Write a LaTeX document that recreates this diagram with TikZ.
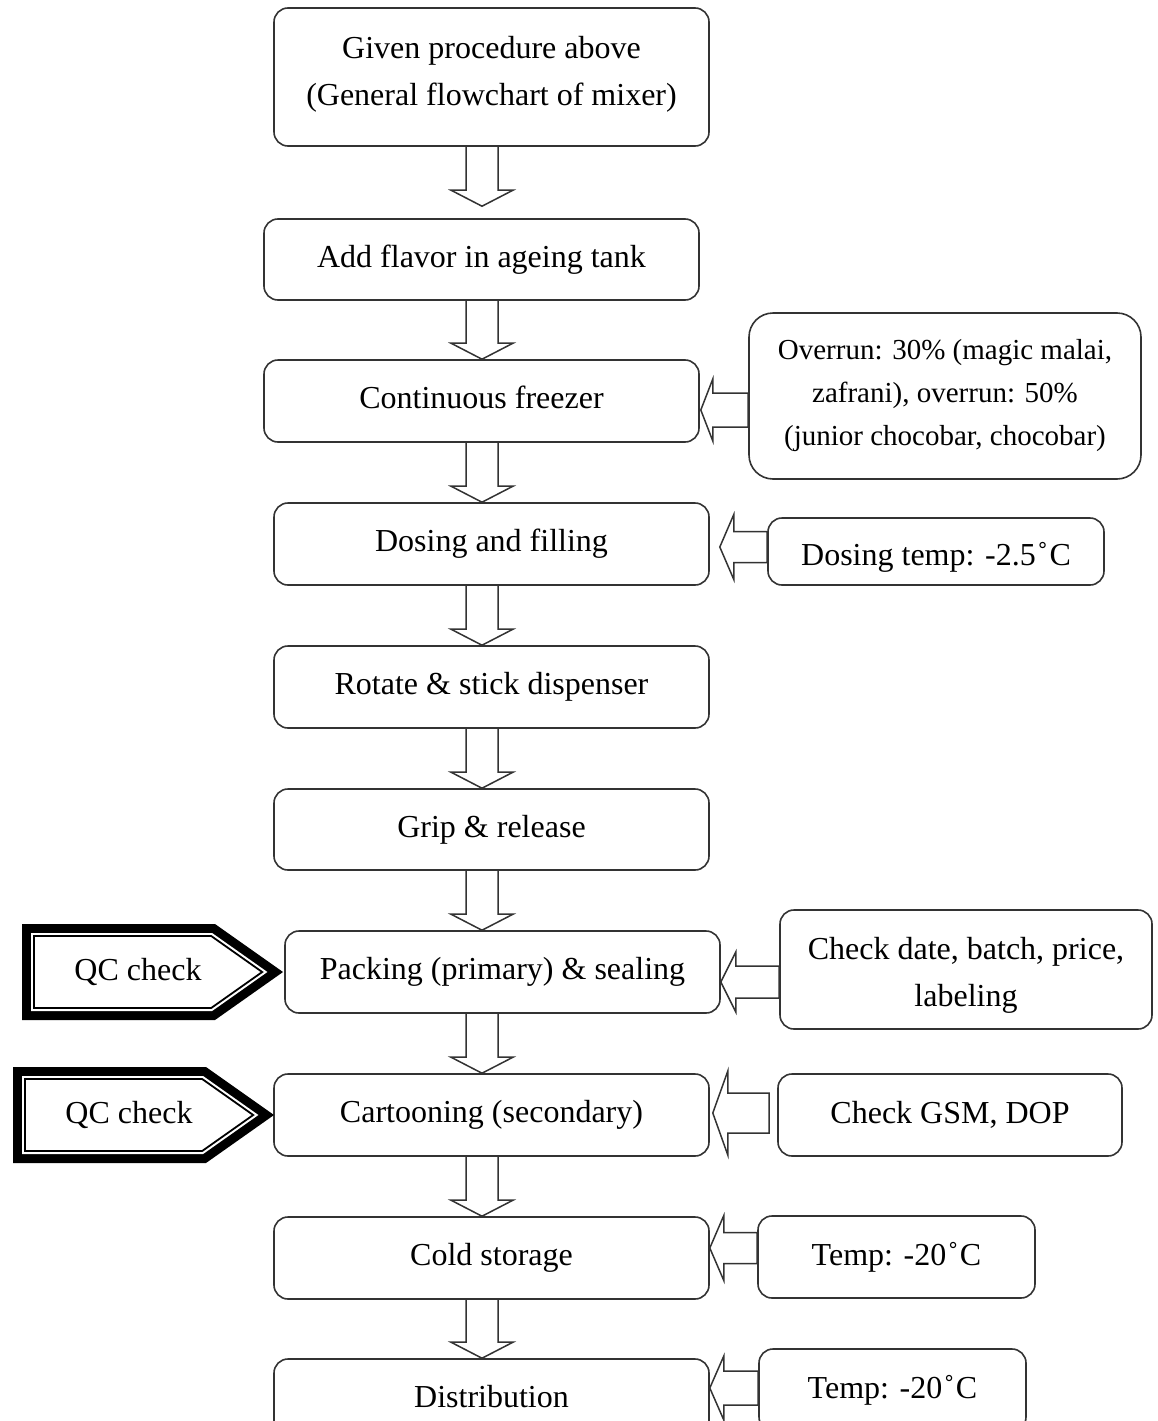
\documentclass[tikz,border=0pt]{standalone}
\usepackage{fontspec}
\setmainfont{Liberation Serif}
\usetikzlibrary{calc}
\pgfdeclarelayer{background}
\pgfsetlayers{background,main}

% hollow block arrow pointing down, from the bottom of #1 to the top of #2 (#3 = gap before #2)
\newcommand\flowdown[3]{%
  \draw[hollow] let \p1=(482,0 |- #1.south), \p2=(482,0 |- #2.north) in
    (\x1-16pt,\y1) -- (\x1-16pt,\y2+#3pt+16pt) -- (\x1-31pt,\y2+#3pt+16pt)
    -- (\x1,\y2+#3pt) -- (\x1+31pt,\y2+#3pt+16pt) -- (\x1+16pt,\y2+#3pt+16pt)
    -- (\x1+16pt,\y1);}

% hollow block arrow pointing left, from #1 to #2 at height #3
% #4 shaft half-width, #5 head half-width, #6 head length, #7 gap at the tip, #8 gap at the tail
\newcommand\sidearrow[8]{%
  \draw[hollow] let \p1=(#1.west |- 0,#3), \p2=(#2.east) in
    (\x1-#8pt,\y1+#4pt) -- (\x2+#7pt+#6pt,\y1+#4pt) -- (\x2+#7pt+#6pt,\y1+#5pt)
    -- (\x2+#7pt,\y1) -- (\x2+#7pt+#6pt,\y1-#5pt) -- (\x2+#7pt+#6pt,\y1-#4pt)
    -- (\x1-#8pt,\y1-#4pt) -- cycle;}

% degree ring as set in the temperature labels
\newcommand\degC{\kern1.5pt˚\kern1.5pt C}

\begin{document}
\begin{tikzpicture}[x=1pt,y=-1pt,
  box/.style={draw=black!80, line width=1.6pt, rounded corners=14pt, inner sep=0pt,
    align=center, font=\fontsize{32}{47}\selectfont},
  mainbox/.style={box, minimum width=435pt, minimum height=82pt, text depth=7pt},
  hollow/.style={draw=black!80, line width=1.5pt, fill=white, line join=miter},
  qcbadge/.pic={
    \fill[black] (-116,-48) -- (77,-48) -- (145,0) -- (77,48) -- (-116,48) -- cycle;
    \fill[white] (-107,-39) -- (74.1,-39) -- (129.4,0) -- (74.1,39) -- (-107,39) -- cycle;
    \draw[black, line width=1.8pt, line join=miter]
      (-104,-36) -- (73.2,-36) -- (124.2,0) -- (73.2,36) -- (-104,36) -- cycle;
    \node[font=\fontsize{32}{47}\selectfont] (-t) at (0,0) {QC check};
  }]
\useasboundingbox (0,0) rectangle (1157,1421);
\clip (0,0) rectangle (1157,1421);

% main process column
\node[mainbox, minimum height=138pt, text depth=13pt] (given) at (491.5,77) {Given procedure above\\(General flowchart of mixer)};
\node[mainbox, minimum height=81pt] (flavor) at (481.5,259.5) {Add flavor in ageing tank};
\node[mainbox] (freezer) at (481.5,401) {Continuous freezer};
\node[mainbox] (dosing) at (491.5,544) {Dosing and filling};
\node[mainbox] (rotate) at (491.5,687) {Rotate \& stick dispenser};
\node[mainbox, minimum height=81pt] (grip) at (491.5,829.5) {Grip \& release};
\node[mainbox] (packing) at (502.5,972) {Packing (primary) \& sealing};
\node[mainbox] (carton) at (491.5,1115) {Cartooning (secondary)};
\node[mainbox] (cold) at (491.5,1258) {Cold storage};
\node[mainbox] (distrib) at (491.5,1400) {Distribution};

% side conditions
\node[box, rounded corners=24pt, minimum width=392pt, minimum height=166pt,
  font=\fontsize{29}{43}\selectfont] (overrun) at (945,396)
  {Overrun: 30\% (magic malai,\\zafrani), overrun: 50\%\\(junior chocobar, chocobar)};
\node[box, minimum width=336pt, minimum height=67pt, text height=34pt, text depth=7pt] (dtemp) at (936,551.5) {Dosing temp: -2.5\degC};
\node[box, minimum width=372pt, minimum height=119pt, text height=81pt, text depth=7pt] (label) at (966,969.5) {Check date, batch, price,\\labeling};
\node[box, minimum width=344pt, minimum height=82pt] (gsm) at (950,1115) {Check GSM, DOP};
\node[box, minimum width=277pt, minimum height=82pt] (ctemp) at (896.5,1257) {Temp: -20\degC};
\node[box, minimum width=267pt, minimum height=82pt] (dtemp2) at (892.5,1390) {Temp: -20\degC};

% quality-control markers
\pic (qc1) at (138,972) {qcbadge};
\pic (qc2) at (129,1115) {qcbadge};

\begin{pgfonlayer}{background}
  \flowdown{given}{flavor}{12}
  \flowdown{flavor}{freezer}{0}
  \flowdown{freezer}{dosing}{0}
  \flowdown{dosing}{rotate}{0}
  \flowdown{rotate}{grip}{0}
  \flowdown{grip}{packing}{0}
  \flowdown{packing}{carton}{0}
  \flowdown{carton}{cold}{0}
  \flowdown{cold}{distrib}{0}

  \sidearrow{overrun}{freezer}{410}{17}{31}{12}{1}{0}
  \sidearrow{dtemp}{dosing}{547}{15.5}{32.5}{14}{10}{0}
  \sidearrow{label}{packing}{982}{16}{30}{15}{0}{0}
  \sidearrow{gsm}{carton}{1113}{20}{42}{15}{3}{8}
  \sidearrow{ctemp}{cold}{1248}{15.5}{32.5}{14}{0}{0}
  \sidearrow{dtemp2}{distrib}{1388}{17}{32}{14}{0}{0}
\end{pgfonlayer}
\end{tikzpicture}
\end{document}
